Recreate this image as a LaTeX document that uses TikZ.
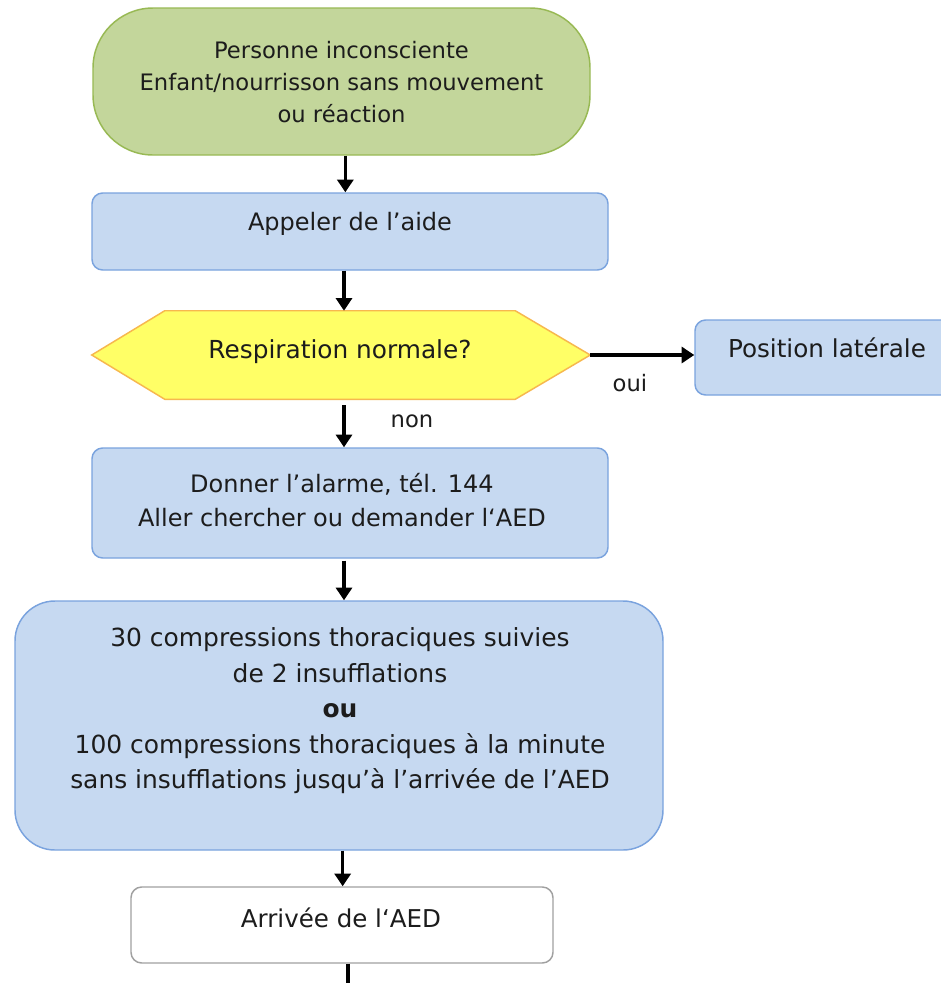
\documentclass[tikz,border=0pt]{standalone}
\usepackage{fontspec}
\setmainfont{DejaVu Sans}
\usetikzlibrary{arrows.meta}
\newdimen\pxu \pxu=0.75pt
\definecolor{greenfill}{HTML}{C3D69B}
\definecolor{greenline}{HTML}{98B954}
\definecolor{bluefill}{HTML}{C6D9F1}
\definecolor{blueline}{HTML}{7AA3DE}
\definecolor{yellowfill}{HTML}{FFFF66}
\definecolor{yellowline}{HTML}{F7B84E}
\definecolor{grayline}{HTML}{A0A0A0}
\definecolor{txt}{HTML}{1C1C1C}
\tikzset{
  shapebox/.style={draw, line width=1.1pt, inner sep=0pt},
  greenbox/.style={shapebox, fill=greenfill, draw=greenline, rounded corners=45pt},
  bluebox/.style={shapebox, fill=bluefill, draw=blueline, rounded corners=8pt},
  whitebox/.style={shapebox, fill=white, draw=grayline, rounded corners=8pt},
  hexbox/.style={fill=yellowfill, draw=yellowline, line width=1.1pt},
  label/.style={text=txt, align=center, inner sep=0pt},
  arr/.style={line width=2.7pt, -{Triangle[length=9.5pt,width=12pt]}},
  plainline/.style={line width=3pt},
}
\begin{document}
\begin{tikzpicture}[x=0.75pt,y=-0.75pt]
\useasboundingbox (0,0) rectangle (941,983);
\fill[white] (0,0) rectangle (941,983);
\coordinate (axis) at (344,0);

% green start
\node[greenbox, minimum width=497\pxu, minimum height=147\pxu] (start) at (341.5,81.5) {};
\node[label, font=\fontsize{17}{24}\selectfont] (tstart) at (341.5,82)
  {Personne inconsciente\\Enfant/nourrisson sans mouvement\\ou réaction};

% appeler
\node[bluebox, minimum width=516\pxu, minimum height=77\pxu] (appel) at (350,231.5) {};
\node[label, font=\fontsize{18}{25}\selectfont] (tappel) at (350,224) {Appeler de l’aide};

% hexagon
\node[minimum width=498\pxu, minimum height=88\pxu, inner sep=0pt] (hex) at (341,355) {};
\draw[hexbox] (hex.west) -- ([xshift=73\pxu]hex.north west) -- ([xshift=-75\pxu]hex.north east)
  -- (hex.east) -- ([xshift=-75\pxu]hex.south east) -- ([xshift=73\pxu]hex.south west) -- cycle;
\node[label, font=\fontsize{18.6}{25}\selectfont] (thex) at (340,352) {Respiration normale?};

% position laterale
\node[bluebox, minimum width=265\pxu, minimum height=75\pxu] (pos) at (827.5,357.5) {};
\node[label, font=\fontsize{18.5}{25}\selectfont] (tpos) at (827,348) {Position latérale};

% donner
\node[bluebox, minimum width=516\pxu, minimum height=110\pxu] (donner) at (350,503) {};
\node[label, font=\fontsize{18}{25.5}\selectfont] (tdonner) at (342,500)
  {Donner l’alarme, tél. 144\\Aller chercher ou demander l‘AED};

% big box
\node[bluebox, rounded corners=30pt, minimum width=648\pxu, minimum height=249\pxu] (big) at (339,725.5) {};
\node[label, font=\fontsize{18.7}{26.6}\selectfont] (tbig) at (340,711)
  {30 compressions thoraciques suivies\\de 2 insufflations\\\textbf{ou}\\100 compressions thoraciques à la minute\\sans insufflations jusqu’à l’arrivée de l’AED};

% arrivee
\node[whitebox, minimum width=422\pxu, minimum height=76\pxu] (aed) at (342,925) {};
\node[label, font=\fontsize{18.4}{25}\selectfont] (taed) at (341,917.5) {Arrivée de l‘AED};

% labels
\node[label, font=\fontsize{17}{22}\selectfont] (oui) at (630,383) {oui};
\node[label, font=\fontsize{17}{22}\selectfont] (non) at (412,421.5) {non};

% connectors
\draw[arr] ([xshift=1pt]start.south -| axis) -- ([xshift=1pt]appel.north -| axis);
\draw[arr] (appel.south -| axis) -- (hex.north -| axis);
\draw[arr] (hex.east) -- (pos.west |- hex.east);
\draw[arr] ([yshift=-6\pxu]hex.south -| axis) -- (donner.north -| axis);
\draw[arr] ([yshift=-2\pxu]donner.south -| axis) -- (big.north -| axis);
\draw[arr] ([xshift=-1pt]big.south -| axis) -- ([xshift=-1pt]aed.north -| axis);
\coordinate (bottomend) at (348,995);
\draw[plainline] (aed.south -| bottomend) -- (bottomend);
\end{tikzpicture}
\end{document}
